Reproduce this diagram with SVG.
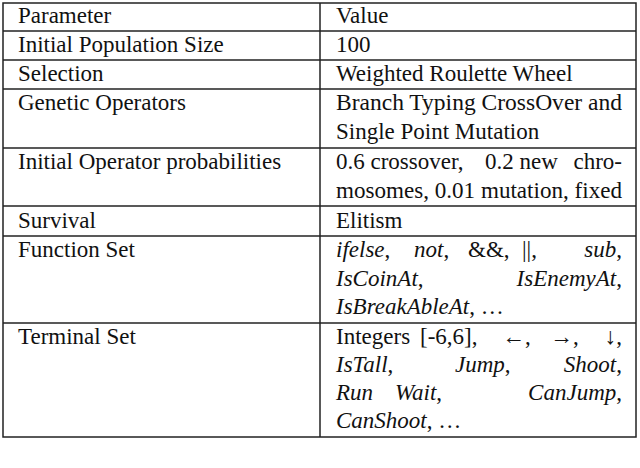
<svg xmlns="http://www.w3.org/2000/svg" width="640" height="468" viewBox="0 0 640 468">
<style>
text{font-family:"Liberation Serif","Times New Roman",serif;font-size:23px;fill:#111}
.i{font-style:italic}
.e{text-anchor:end}
.l{stroke:#222;stroke-width:1.5;fill:none}
</style>
<rect width="640" height="468" fill="#fff"/>
<g id="grid">
<rect class="l" x="3" y="3" width="633" height="434"/>
<line class="l" x1="320" y1="3" x2="320" y2="437"/>
<line class="l" x1="3" y1="31" x2="636" y2="31"/>
<line class="l" x1="3" y1="60" x2="636" y2="60"/>
<line class="l" x1="3" y1="89" x2="636" y2="89"/>
<line class="l" x1="3" y1="148" x2="636" y2="148"/>
<line class="l" x1="3" y1="206" x2="636" y2="206"/>
<line class="l" x1="3" y1="236" x2="636" y2="236"/>
<line class="l" x1="3" y1="323" x2="636" y2="323"/>
</g>
<g id="left">
<text x="18" y="23">Parameter</text>
<text x="18" y="52">Initial Population Size</text>
<text x="18" y="81">Selection</text>
<text x="18" y="110">Genetic Operators</text>
<text x="18" y="169">Initial Operator probabilities</text>
<text x="18" y="228">Survival</text>
<text x="18" y="257">Function Set</text>
<text x="18" y="344">Terminal Set</text>
</g>
<g id="right">
<text x="336" y="23">Value</text>
<text x="336" y="52">100</text>
<text x="336" y="81">Weighted Roulette Wheel</text>
<text x="336" y="110" textLength="286" lengthAdjust="spacingAndGlyphs">Branch Typing CrossOver and</text>
<text x="336" y="139">Single Point Mutation</text>
<text x="336" y="169">0.6 crossover,</text><text x="485" y="169">0.2 new</text><text x="622" y="169" class="e">chro-</text>
<text x="336" y="198" textLength="286" lengthAdjust="spacingAndGlyphs">mosomes, 0.01 mutation, fixed</text>
<text x="336" y="228">Elitism</text>
<text x="336" y="257"><tspan class="i">ifelse</tspan>,</text><text x="414" y="257"><tspan class="i">not</tspan>,</text><text x="468" y="257">&amp;&amp;,</text><text x="522" y="257">||,</text><text x="622" y="257" class="e"><tspan class="i">sub</tspan>,</text>
<text x="336" y="286"><tspan class="i">IsCoinAt</tspan>,</text><text x="622" y="286" class="e"><tspan class="i">IsEnemyAt</tspan>,</text>
<text x="336" y="314"><tspan class="i">IsBreakAbleAt</tspan>, …</text>
<text x="336" y="344">Integers</text><text x="420" y="344">[-6,6],</text><text x="502" y="344">←,</text><text x="550" y="344">→,</text><text x="622" y="344" class="e">↓,</text>
<text x="336" y="372"><tspan class="i">IsTall</tspan>,</text><text x="455" y="372"><tspan class="i">Jump</tspan>,</text><text x="622" y="372" class="e"><tspan class="i">Shoot</tspan>,</text>
<text x="336" y="400"><tspan class="i">Run</tspan></text><text x="395" y="400"><tspan class="i">Wait</tspan>,</text><text x="622" y="400" class="e"><tspan class="i">CanJump</tspan>,</text>
<text x="336" y="428"><tspan class="i">CanShoot</tspan>, …</text>
</g>
</svg>
